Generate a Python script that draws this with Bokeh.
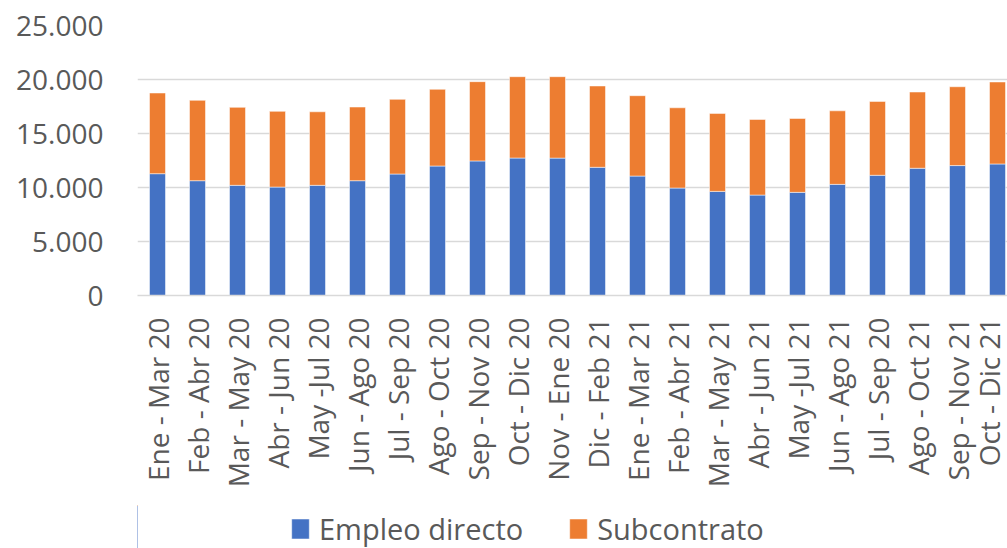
import math
from bokeh.plotting import figure
from bokeh.layouts import column
from bokeh.models import ColumnDataSource, Range1d, FixedTicker, Legend, LegendItem
from bokeh.embed import file_html
from bokeh.resources import INLINE

periodos = ["Ene - Mar 20", "Feb - Abr 20", "Mar - May 20", "Abr - Jun 20", "May -Jul 20",
            "Jun - Ago 20", "Jul - Sep 20", "Ago - Oct 20", "Sep - Nov 20", "Oct - Dic 20",
            "Nov - Ene 20", "Dic - Feb 21", "Ene - Mar 21", "Feb - Abr 21", "Mar - May 21",
            "Abr - Jun 21", "May -Jul 21", "Jun - Ago 21", "Jul - Sep 20", "Ago - Oct 21",
            "Sep - Nov 21", "Oct - Dic 21"]
empleo_directo = [11280, 10630, 10200, 10040, 10200, 10630, 11250, 11990, 12460, 12730,
                  12720, 11870, 11060, 9950, 9640, 9300, 9550, 10290, 11130, 11780,
                  12030, 12180]
total = [18750, 18070, 17420, 17050, 17010, 17450, 18160, 19090, 19800, 20260,
         20260, 19400, 18500, 17380, 16860, 16300, 16390, 17100, 17970, 18840,
         19330, 19770]
subcontrato = [t - d for t, d in zip(total, empleo_directo)]
y_ticks = [0, 5000, 10000, 15000, 20000, 25000]
y_tick_labels = ["0", "5.000", "10.000", "15.000", "20.000", "25.000"]
series = ["Empleo directo", "Subcontrato"]
colores = ["#4472C4", "#ED7D31"]

src = ColumnDataSource(dict(x=list(range(len(periodos))), directo=empleo_directo, sub=subcontrato))

p = figure(output_backend="svg", toolbar_location=None,
           frame_width=870, frame_height=270,
           x_range=Range1d(-0.5, 21.25), y_range=Range1d(0, 25000),
           min_border_left=137, min_border_right=0, min_border_top=25, min_border_bottom=210)
p.outline_line_color = None

rs = p.vbar_stack(["directo", "sub"], x="x", width=0.4, source=src,
                  color=colores, line_color="white", line_alpha=0.5, line_width=1)

# axes
p.yaxis.ticker = FixedTicker(ticks=y_ticks)
p.yaxis.major_label_overrides = {t: l for t, l in zip(y_ticks, y_tick_labels)}
p.yaxis.axis_line_color = None
p.yaxis.major_tick_line_color = None
p.yaxis.minor_tick_line_color = None
p.yaxis.major_label_standoff = 28
p.yaxis.major_label_text_font = "Open Sans"
p.yaxis.major_label_text_font_size = "28px"
p.yaxis.major_label_text_color = "#595959"

p.xaxis.ticker = FixedTicker(ticks=list(range(len(periodos))))
p.xaxis.major_label_overrides = {i: l for i, l in enumerate(periodos)}
p.xaxis.major_label_orientation = math.pi / 2
p.xaxis.axis_line_color = "#D9D9D9"
p.xaxis.axis_line_width = 1.5
p.xaxis.major_tick_line_color = None
p.xaxis.minor_tick_line_color = None
p.xaxis.major_tick_out = 0
p.xaxis.major_tick_in = 0
p.xaxis.major_label_standoff = 22
p.xaxis.major_label_text_font = "Open Sans"
p.xaxis.major_label_text_font_size = "28px"
p.xaxis.major_label_text_color = "#595959"

p.xgrid.grid_line_color = None
p.ygrid.grid_line_color = "#D9D9D9"
p.ygrid.grid_line_width = 1.5

# legend strip below the chart (its bars lie outside its visible range)
pl = figure(output_backend="svg", toolbar_location=None,
            frame_width=870, height=43, x_range=Range1d(100, 101), y_range=Range1d(0, 1),
            x_axis_location=None, y_axis_location=None,
            min_border_left=137, min_border_right=0, min_border_top=0, min_border_bottom=0)
pl.outline_line_color = None
pl.grid.visible = False
rl = pl.vbar_stack(["directo", "sub"], x="x", width=0.4, source=src,
                   color=colores, line_color="white", line_alpha=0.5, line_width=1)
legend = Legend(items=[LegendItem(label=series[0], renderers=[rl[0]]),
                       LegendItem(label=series[1], renderers=[rl[1]])],
                orientation="horizontal", location=(152, 0),
                glyph_width=22, glyph_height=25, label_standoff=8, spacing=44,
                label_text_font="Open Sans", label_text_font_size="29px",
                label_text_color="#595959", padding=0, margin=0,
                border_line_color=None, background_fill_alpha=0)
pl.add_layout(legend, "center")

open("out.html", "w").write(file_html(column(p, pl, spacing=0), INLINE))
